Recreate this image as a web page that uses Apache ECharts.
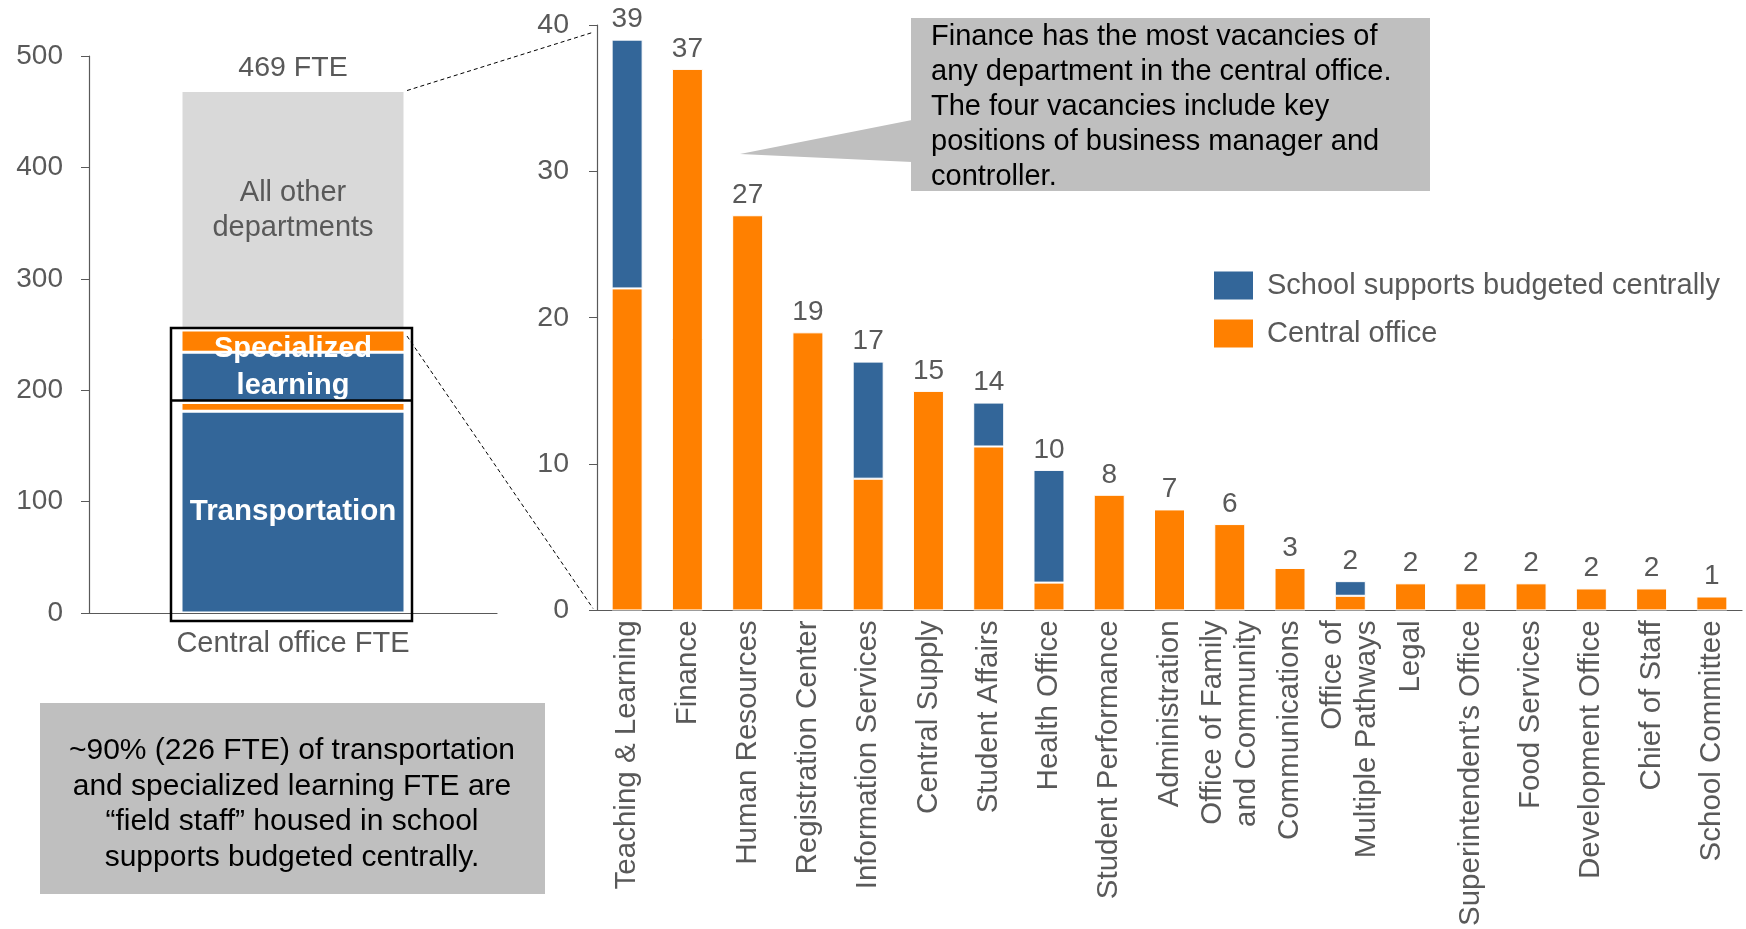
<!DOCTYPE html>
<html lang="en">
<head>
<meta charset="UTF-8">
<title>Central office FTE and vacancies</title>
<style>
  html, body, .canvas {
    margin: 0;
    padding: 0;
    width: 100%;
    height: 100%;
    background: #fff;
    overflow: hidden;
  }
</style>
</head>
<body>
<div class="canvas" id="chart"></div>
<script src="https://cdn.jsdelivr.net/npm/echarts@6/dist/echarts.min.js"></script>
<script>
// left: central office FTE by group
const leftCategories = ['Central office FTE'];
const leftSegments = ['Transportation', 'Transportation (central office)', 'Specialized learning',
  'Specialized learning (central office)', 'All other departments'];
const leftValues = [181, 8, 45, 20, 215];
const leftTicks = [0, 100, 200, 300, 400, 500];

// right: vacancies by department
const departments = ['Teaching & Learning', 'Finance', 'Human Resources', 'Registration Center',
  'Information Services', 'Central Supply', 'Student Affairs', 'Health Office', 'Student Performance',
  'Administration', 'Office of Family\nand Community', 'Communications', 'Office of\nMultiple Pathways',
  'Legal', 'Superintendent\u2019s Office', 'Food Services', 'Development Office', 'Chief of Staff',
  'School Committee'];
const centralOffice = [22, 37, 27, 19, 9, 15, 11.2, 1.9, 7.9, 6.9, 5.9, 2.9, 1, 1.85, 1.85, 1.85, 1.5, 1.5, 0.95];
const schoolSupports = [17, 0, 0, 0, 8, 0, 3, 7.7, 0, 0, 0, 0, 1, 0, 0, 0, 0, 0, 0];
const totalLabels = [39, 37, 27, 19, 17, 15, 14, 10, 8, 7, 6, 3, 2, 2, 2, 2, 2, 2, 1];
const rightTicks = [0, 10, 20, 30, 40];

const noteTop = ['Finance has the most vacancies of', 'any department in the central office.',
  'The four vacancies include key', 'positions of business manager and', 'controller.'];
const noteBottom = ['~90% (226 FTE) of transportation', 'and specialized learning FTE are',
  '\u201cfield staff\u201d housed in school', 'supports budgeted centrally.'];

const FONT = "'Liberation Sans', Arial, sans-serif";
const GREY = '#595959';
const BLUE = '#336699';
const ORANGE = '#ff8000';
const leftColors = [BLUE, ORANGE, BLUE, ORANGE, '#d9d9d9'];
const leftBarWidth = 224;

const chart = echarts.init(document.getElementById('chart'));

const leftSeries = leftValues.map((v, i) => ({
  name: leftSegments[i],
  type: 'bar',
  stack: 'fte',
  xAxisIndex: 0,
  yAxisIndex: 0,
  barWidth: leftBarWidth,
  data: [v],
  itemStyle: { color: leftColors[i], borderColor: '#fff', borderWidth: 1.5 },
  label: { show: false }
}));
leftSeries[0].label = {
  show: true, position: 'inside', formatter: 'Transportation',
  color: '#fff', fontWeight: 'bold', fontSize: 29.5, fontFamily: FONT
};
leftSeries[2].label = {
  show: true, position: 'inside', formatter: 'Specialized\nlearning', offset: [0, -10],
  color: '#fff', fontWeight: 'bold', fontSize: 29, lineHeight: 37, fontFamily: FONT
};
leftSeries[4].label = {
  show: true, position: 'inside', formatter: 'All other\ndepartments',
  color: GREY, fontSize: 29, lineHeight: 35, fontFamily: FONT
};
const leftTotal = leftValues.reduce((a, b) => a + b, 0);
leftSeries.push({
  name: 'total', type: 'bar', xAxisIndex: 0, yAxisIndex: 0, barWidth: leftBarWidth, barGap: '-100%',
  data: [leftTotal], silent: true, z: 1,
  itemStyle: { color: 'rgba(0,0,0,0)' },
  label: { show: true, position: 'top', distance: 8, formatter: '{c} FTE', color: GREY, fontSize: 28.5, fontFamily: FONT }
});

const totals = centralOffice.map((v, i) => +(v + schoolSupports[i]).toFixed(2));

const rightSeries = [
  {
    name: 'Central office', type: 'bar', stack: 'dept', xAxisIndex: 1, yAxisIndex: 1, barWidth: 31,
    data: centralOffice,
    itemStyle: { color: ORANGE, borderColor: '#fff', borderWidth: 1 }
  },
  {
    name: 'School supports budgeted centrally', type: 'bar', stack: 'dept', xAxisIndex: 1, yAxisIndex: 1, barWidth: 31,
    data: schoolSupports.map(v => (v > 0 ? v : '-')),
    itemStyle: { color: BLUE, borderColor: '#fff', borderWidth: 1 }
  },
  {
    name: 'vacancies', type: 'bar', xAxisIndex: 1, yAxisIndex: 1, barWidth: 31, barGap: '-100%',
    data: totals, silent: true, z: 1,
    itemStyle: { color: 'rgba(0,0,0,0)' },
    label: {
      show: true, position: 'top', distance: 6, color: GREY, fontSize: 28, fontFamily: FONT,
      formatter: p => totalLabels[p.dataIndex]
    }
  }
];

const axisLine = { show: true, lineStyle: { color: GREY, width: 1.2 } };

const option = {
  animation: false,
  textStyle: { fontFamily: FONT },
  grid: [
    { left: 89, top: 56, width: 408, bottom: 316 },
    { left: 597, top: 25, right: 4, bottom: 316 }
  ],
  legend: {
    data: ['School supports budgeted centrally', 'Central office'],
    orient: 'vertical',
    left: 1214,
    top: 271,
    padding: 0,
    itemWidth: 39,
    itemHeight: 28,
    itemGap: 19,
    icon: 'rect',
    itemStyle: { borderWidth: 0 },
    textStyle: { fontSize: 29, color: GREY, fontFamily: FONT, padding: [0, 0, 0, 9] },
    selectedMode: false
  },
  xAxis: [
    {
      type: 'category', gridIndex: 0, data: leftCategories,
      axisLine: axisLine, axisTick: { show: false },
      axisLabel: { fontSize: 29, color: GREY, margin: 16, fontFamily: FONT }
    },
    {
      type: 'category', gridIndex: 1, data: departments,
      axisLine: axisLine, axisTick: { show: false },
      axisLabel: {
        interval: 0, rotate: 90, fontSize: 29.5, lineHeight: 34, color: GREY, margin: 10, fontFamily: FONT
      }
    }
  ],
  yAxis: [
    {
      type: 'value', gridIndex: 0,
      min: leftTicks[0], max: leftTicks[leftTicks.length - 1], interval: leftTicks[1] - leftTicks[0],
      axisLine: axisLine, axisTick: { show: true, length: 8, lineStyle: { color: GREY } },
      splitLine: { show: false },
      axisLabel: { fontSize: 28, color: GREY, margin: 26, fontFamily: FONT }
    },
    {
      type: 'value', gridIndex: 1,
      min: rightTicks[0], max: rightTicks[rightTicks.length - 1], interval: rightTicks[1] - rightTicks[0],
      axisLine: axisLine, axisTick: { show: true, length: 8, lineStyle: { color: GREY } },
      splitLine: { show: false },
      axisLabel: { fontSize: 28.5, color: GREY, margin: 28, fontFamily: FONT }
    }
  ],
  series: leftSeries.concat(rightSeries)
};

chart.setOption(option);

// annotations placed from the axes
const pl = v => chart.convertToPixel({ gridIndex: 0 }, [leftCategories[0], v]);
const pr = (i, v) => chart.convertToPixel({ gridIndex: 1 }, [departments[i], v]);
const half = leftBarWidth / 2;
const cx = pl(0)[0];
const y0 = pl(0)[1];
const yTop = pl(leftTotal)[1];
const ySpec = pl(leftValues[0] + leftValues[1] + leftValues[2] + leftValues[3])[1];
const yTrans = pl(leftValues[0] + leftValues[1])[1];
const rightAxisX = 597;
const yRTop = pr(0, 39.5)[1];
const yR0 = pr(0, 0)[1];

const dash = { stroke: '#000', lineWidth: 1, lineDash: [4, 3] };

chart.setOption({
  graphic: [
    { type: 'line', shape: { x1: cx + half + 2, y1: yTop, x2: rightAxisX - 4, y2: yRTop }, style: dash, silent: true },
    { type: 'line', shape: { x1: cx + half + 2, y1: ySpec + 6, x2: rightAxisX - 4, y2: yR0 - 2 }, style: dash, silent: true },
    {
      type: 'rect', shape: { x: cx - half - 10, y: ySpec - 2, width: leftBarWidth + 17, height: y0 + 8 - (ySpec - 2) },
      style: { fill: 'none', stroke: '#000', lineWidth: 2.5 }, z: 50, silent: true
    },
    {
      type: 'line', shape: { x1: cx - half - 10, y1: yTrans - 2, x2: cx + half + 7, y2: yTrans - 2 },
      style: { stroke: '#000', lineWidth: 2.5 }, z: 50, silent: true
    },
    // top note with pointer
    {
      type: 'polygon', shape: { points: [[740, 154], [912, 120], [912, 162]] },
      style: { fill: '#bfbfbf' }, silent: true
    },
    { type: 'rect', shape: { x: 911, y: 18, width: 519, height: 173 }, style: { fill: '#bfbfbf' }, silent: true },
    {
      type: 'text', x: 931, y: 19, silent: true,
      style: { text: noteTop.join('\n'), font: '29px ' + FONT, lineHeight: 35, fill: '#000' }
    },
    // bottom note
    { type: 'rect', shape: { x: 40, y: 703, width: 505, height: 191 }, style: { fill: '#bfbfbf' }, silent: true },
    {
      type: 'text', x: 292, y: 804, silent: true,
      style: {
        text: noteBottom.join('\n'), font: '30px ' + FONT, lineHeight: 35.5, fill: '#000',
        align: 'center', verticalAlign: 'middle'
      }
    }
  ]
});
</script>
</body>
</html>
